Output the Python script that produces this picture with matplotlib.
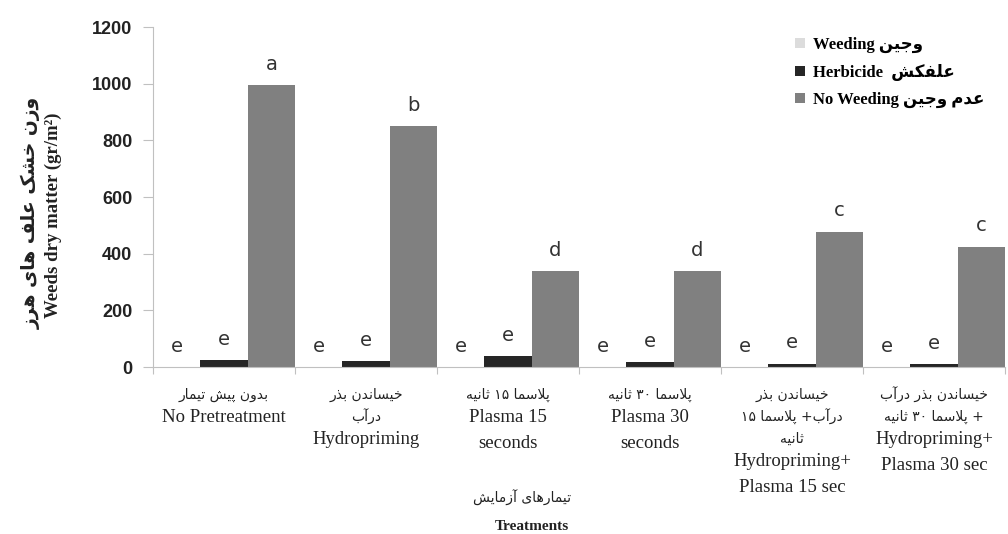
import re
import numpy as np
import matplotlib.pyplot as plt
from matplotlib.patches import Patch

# treatments: Persian lines and English lines under each group
treat_fa = [["بدون پیش تیمار"],
            ["خیساندن بذر", "درآب"],
            ["پلاسما ۱۵ ثانیه"],
            ["پلاسما ۳۰ ثانیه"],
            ["خیساندن بذر", "درآب+ پلاسما ۱۵", "ثانیه"],
            ["خیساندن بذر درآب", "+ پلاسما ۳۰ ثانیه"]]
treat_en = [["No Pretreatment"],
            ["Hydropriming"],
            ["Plasma 15", "seconds"],
            ["Plasma 30", "seconds"],
            ["Hydropriming+", "Plasma 15 sec"],
            ["Hydropriming+", "Plasma 30 sec"]]

series_en = ["Weeding", "Herbicide", "No Weeding"]
series_fa = ["وجین", "علفکش", "عدم وجین"]
weeding = [0, 0, 0, 0, 0, 0]
herbicide = [25, 20, 38, 18, 12, 10]
no_weeding = [995, 850, 340, 340, 478, 425]
letters_weeding = ["e", "e", "e", "e", "e", "e"]
letters_herbicide = ["e", "e", "e", "e", "e", "e"]
letters_no_weeding = ["a", "b", "d", "d", "c", "c"]

colors = ["#dcdcdc", "#262626", "#808080"]

# --- minimal Persian shaping (presentation forms + right-to-left order) ---
FORMS = {
    0x0627: (0xFE8D, 0xFE8E), 0x0622: (0xFE81, 0xFE82),
    0x062F: (0xFEA9, 0xFEAA), 0x0630: (0xFEAB, 0xFEAC),
    0x0631: (0xFEAD, 0xFEAE), 0x0632: (0xFEAF, 0xFEB0),
    0x0648: (0xFEED, 0xFEEE),
    0x0628: (0xFE8F, 0xFE90, 0xFE91, 0xFE92),
    0x067E: (0xFB56, 0xFB57, 0xFB58, 0xFB59),
    0x062A: (0xFE95, 0xFE96, 0xFE97, 0xFE98),
    0x062B: (0xFE99, 0xFE9A, 0xFE9B, 0xFE9C),
    0x062C: (0xFE9D, 0xFE9E, 0xFE9F, 0xFEA0),
    0x062E: (0xFEA5, 0xFEA6, 0xFEA7, 0xFEA8),
    0x0633: (0xFEB1, 0xFEB2, 0xFEB3, 0xFEB4),
    0x0634: (0xFEB5, 0xFEB6, 0xFEB7, 0xFEB8),
    0x0639: (0xFEC9, 0xFECA, 0xFECB, 0xFECC),
    0x0641: (0xFED1, 0xFED2, 0xFED3, 0xFED4),
    0x06A9: (0xFB8E, 0xFB8F, 0xFB90, 0xFB91),
    0x0644: (0xFEDD, 0xFEDE, 0xFEDF, 0xFEE0),
    0x0645: (0xFEE1, 0xFEE2, 0xFEE3, 0xFEE4),
    0x0646: (0xFEE5, 0xFEE6, 0xFEE7, 0xFEE8),
    0x0647: (0xFEE9, 0xFEEA, 0xFEEB, 0xFEEC),
    0x06CC: (0xFBFC, 0xFBFD, 0xFBFE, 0xFBFF),
}


def shape(word):
    out = []
    i = 0
    n = len(word)
    while i < n:
        cp = ord(word[i])
        if cp not in FORMS:
            out.append(word[i])
            i += 1
            continue
        prev = ord(word[i - 1]) if i > 0 else None
        joins_prev = prev in FORMS and len(FORMS[prev]) == 4
        if cp == 0x0644 and i + 1 < n and word[i + 1] in "اآ":
            lig = (0xFEFB, 0xFEFC) if word[i + 1] == "ا" else (0xFEF5, 0xFEF6)
            out.append(chr(lig[1] if joins_prev else lig[0]))
            i += 2
            continue
        forms = FORMS[cp]
        nxt = ord(word[i + 1]) if i + 1 < n else None
        joins_next = len(forms) == 4 and nxt in FORMS
        if joins_prev and joins_next:
            g = forms[3]
        elif joins_prev:
            g = forms[1]
        elif joins_next:
            g = forms[2]
        else:
            g = forms[0]
        out.append(chr(g))
        i += 1
    return "".join(out)


def fa(text):
    s = shape(text)
    runs = re.findall(r"[0-9\u06F0-\u06F9]+|[^0-9\u06F0-\u06F9]+", s)
    return "".join(r if r[0].isdigit() else r[::-1] for r in reversed(runs))


SERIF = ["Liberation Serif", "DejaVu Sans"]
PX = 0.72  # points per pixel at dpi 100

fig = plt.figure(figsize=(10.08, 5.34), dpi=100)
ax = fig.add_axes([153 / 1008, 1 - 367 / 534, 852 / 1008, 340 / 534])

x = np.arange(len(no_weeding))
w = 1 / 3
series = [weeding, herbicide, no_weeding]
letters = [letters_weeding, letters_herbicide, letters_no_weeding]
for k, (vals, lets) in enumerate(zip(series, letters)):
    xs = x + (k - 1) * w
    ax.bar(xs, vals, width=w, color=colors[k], linewidth=0)
    for xi, v, t in zip(xs, vals, lets):
        ax.annotate(t, (xi, v), xytext=(0, 8), textcoords="offset points",
                    ha="center", va="bottom", fontsize=14,
                    family="DejaVu Sans", color="#333333")

ax.set_xlim(-0.5, len(x) - 0.5)
ax.set_ylim(0, 1200)
ax.set_yticks(np.arange(0, 1201, 200))
ax.set_xticks(np.arange(-0.5, len(x), 1.0))
ax.set_xticklabels([])
for s in ["top", "right"]:
    ax.spines[s].set_visible(False)
for s in ["left", "bottom"]:
    ax.spines[s].set_color("#c0c0c0")
ax.tick_params(axis="y", length=7, color="#c0c0c0", pad=8)
ax.tick_params(axis="x", length=5, color="#c0c0c0")
for lab in ax.get_yticklabels():
    lab.set_fontfamily("Liberation Sans")
    lab.set_fontweight("bold")
    lab.set_fontsize(13)
    lab.set_color("#222222")

# category labels, stacked line by line under each group
for i in range(len(x)):
    y = 17
    for line in treat_fa[i]:
        ax.annotate(fa(line), (i, 0), xycoords=("data", "axes fraction"),
                    xytext=(0, -(y + 11) * PX), textcoords="offset points",
                    ha="center", va="center", fontsize=10,
                    family="DejaVu Sans", color="#222222")
        y += 22
    for line in treat_en[i]:
        ax.annotate(line, (i, 0), xycoords=("data", "axes fraction"),
                    xytext=(0, -(y + 12) * PX), textcoords="offset points",
                    ha="center", va="center", fontsize=13.5,
                    family=SERIF, color="#222222")
        y += 26

# axis titles
fig.text(31 / 1008, 1 - 213 / 534, fa("وزن خشک علف های هرز"), rotation=90,
         ha="center", va="center", fontsize=13.5, family="DejaVu Sans",
         weight="bold", color="#222222")
fig.text(53 / 1008, 1 - 215 / 534, "Weeds dry matter (gr/m²)", rotation=90,
         ha="center", va="center", fontsize=13.5, family=SERIF,
         weight="bold", color="#222222")
fig.text(522 / 1008, 1 - 498 / 534, fa("تیمارهای آزمایش"),
         ha="center", va="center", fontsize=10, family="DejaVu Sans",
         color="#222222")
fig.text(532 / 1008, 1 - 526 / 534, "Treatments",
         ha="center", va="center", fontsize=11, family=SERIF,
         weight="bold", color="#222222")

handles = [Patch(facecolor=c, edgecolor="none") for c in colors]
labels = [series_en[0] + " " + fa(series_fa[0]),
          series_en[1] + "  " + fa(series_fa[1]),
          series_en[2] + " " + fa(series_fa[2])]
fig.legend(handles, labels, loc="upper left",
           bbox_to_anchor=(795 / 1008, 1 - 37 / 534), frameon=False,
           prop=dict(family=SERIF, weight="bold", size=12),
           handlelength=0.6, handleheight=0.6, handletextpad=0.5,
           labelspacing=0.65, borderpad=0, borderaxespad=0)

fig.savefig("out.png", dpi=100)
